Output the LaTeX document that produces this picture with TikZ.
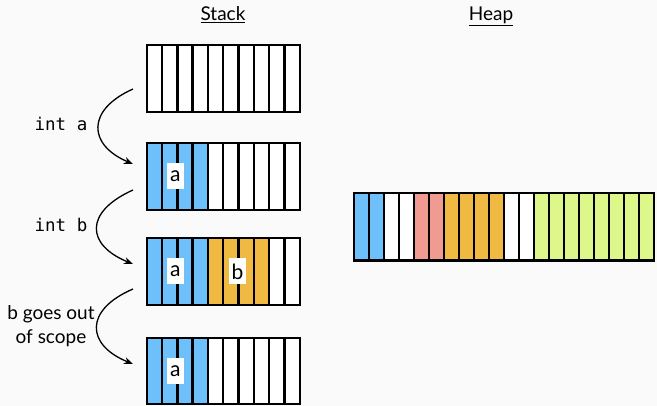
\documentclass[tikz,border=0pt]{standalone}
\usepackage{fontspec}
\setmainfont{Lato}
\setmonofont{DejaVu Sans Mono}
\usetikzlibrary{arrows.meta}
\definecolor{cblue}{HTML}{6EC0FA}
\definecolor{corange}{HTML}{F0BA42}
\definecolor{cpink}{HTML}{F09A92}
\definecolor{cgreen}{HTML}{DDF78A}
\definecolor{bgc}{HTML}{FAFAFA}
\newcommand{\cellrow}[5]{% x0, y0, height, width, colours
  \foreach \c [count=\i from 0] in {#5} {
    \filldraw[cellbox, fill=\c] (#1+\i*#4, #2) rectangle ++(#4, #3);
  }
}
\begin{document}
\begin{tikzpicture}[x=1pt,y=-1pt,
  cellbox/.style={draw=black, line width=2.4pt},
  frame/.style={inner sep=0pt, minimum width=153pt, minimum height=67pt, anchor=north west},
  title/.style={font=\fontsize{19}{22}\selectfont, anchor=base},
  code/.style={font=\ttfamily\fontsize{17.5}{20}\selectfont, anchor=base},
  note/.style={font=\fontsize{19}{24}\selectfont, align=center},
  tag/.style={fill=white, inner sep=0pt, minimum width=17pt, minimum height=26pt, font=\fontsize{21}{24}\selectfont},
  flow/.style={line width=1.3pt, -{Stealth[length=9pt, width=7pt]}}]
\fill[bgc] (0,0) rectangle (657,406);
\useasboundingbox (0,0) rectangle (657,406);

\node[title] (stackt) at (223,21) {\underline{Stack}};
\node[title] (heapt) at (491,21) {\underline{Heap}};

% stack frames
\node[frame] (s1) at (146.7,45) {};
\node[frame] (s2) at (146.7,143) {};
\node[frame] (s3) at (146.7,238) {};
\node[frame] (s4) at (146.7,338) {};
\cellrow{146.7}{45}{67}{15.3}{white,white,white,white,white,white,white,white,white,white}
\cellrow{146.7}{143}{67}{15.3}{cblue,cblue,cblue,cblue,white,white,white,white,white,white}
\cellrow{146.7}{238}{67}{15.3}{cblue,cblue,cblue,cblue,corange,corange,corange,corange,white,white}
\cellrow{146.7}{338}{66}{15.3}{cblue,cblue,cblue,cblue,white,white,white,white,white,white}

\node[tag] (a2) at (175.3,176.5) {a};
\node[tag] (a3) at (175.3,271.5) {a};
\node[tag] (b3) at (237.5,271.5) {b};
\node[tag] (a4) at (175.3,371) {a};

% heap
\node[inner sep=0pt, minimum width=300pt, minimum height=67pt, anchor=north west] (heap) at (354,193.3) {};
\cellrow{354}{193.3}{67.4}{15}{cblue,cblue,white,white,cpink,cpink,corange,corange,corange,corange,white,white,cgreen,cgreen,cgreen,cgreen,cgreen,cgreen,cgreen,cgreen}

% transitions
\coordinate (o1) at (133,89);
\coordinate (i1) at (133,164);
\coordinate (o2) at (133,190);
\coordinate (i2) at (133,264);
\coordinate (o3) at (133,289);
\coordinate (i3) at (133,364);
\draw[flow] (o1) .. controls (86,110) and (88,145) .. (i1);
\draw[flow] (o2) .. controls (84,212) and (86,245) .. (i2);
\draw[flow] (o3) .. controls (84,310) and (86,345) .. (i3);

\node[code] (la) at (61,131) {int a};
\node[code] (lb) at (61,232) {int b};
\node[note] (lc) at (51,326) {b goes out\\of scope};
\end{tikzpicture}
\end{document}
